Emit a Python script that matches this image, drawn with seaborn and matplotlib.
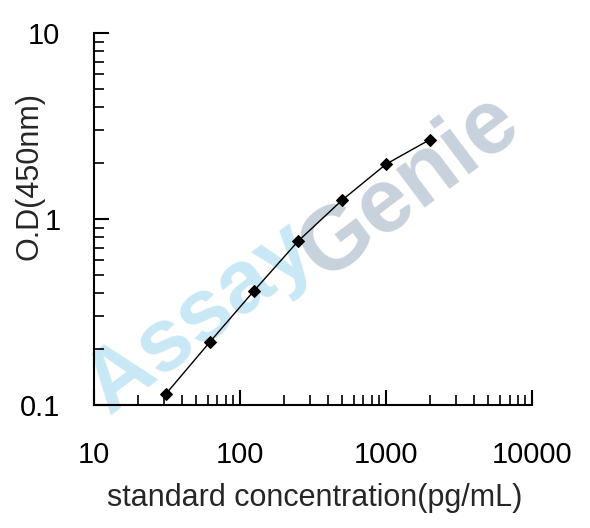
import matplotlib
matplotlib.use("Agg")
import matplotlib.pyplot as plt
import seaborn as sns
import pandas as pd
from matplotlib.ticker import LogLocator, NullFormatter, FixedLocator, FixedFormatter

# standard curve data
concentration = [31.25, 62.5, 125, 250, 500, 1000, 2000]
od_450 = [0.115, 0.219, 0.412, 0.761, 1.265, 1.976, 2.68]

x_ticks = [10, 100, 1000, 10000]
x_tick_labels = ["10", "100", "1000", "10000"]
y_ticks = [0.1, 1, 10]
y_tick_labels = ["0.1", "1", "10"]

df = pd.DataFrame({"conc": concentration, "od": od_450})

sns.set_style("ticks")
plt.rcParams["font.family"] = ["Liberation Sans", "DejaVu Sans"]

fig = plt.figure(figsize=(5.9, 5.28), dpi=100)
ax = fig.add_axes([0.159, 0.233, 0.743, 0.704])

# watermark behind the curve
ax.text(0.339, 0.396, "Assay", transform=fig.transFigure, rotation=37,
        ha="center", va="center", fontsize=64, fontweight="bold",
        color="#c9e8f6", zorder=0)
ax.text(0.695, 0.645, "Genie", transform=fig.transFigure, rotation=37,
        ha="center", va="center", fontsize=65, fontweight="bold",
        color="#c8d2dc", zorder=0)

sns.lineplot(data=df, x="conc", y="od", ax=ax, color="black", linewidth=1,
             marker="D", markersize=6, markeredgecolor="black", zorder=3)

ax.set_xscale("log")
ax.set_yscale("log")
ax.set_xlim(10, 10000)
ax.set_ylim(0.1, 10)

ax.xaxis.set_major_locator(FixedLocator(x_ticks))
ax.xaxis.set_major_formatter(FixedFormatter(x_tick_labels))
ax.yaxis.set_major_locator(FixedLocator(y_ticks))
ax.yaxis.set_major_formatter(FixedFormatter(y_tick_labels))
ax.xaxis.set_minor_locator(LogLocator(base=10, subs=range(2, 10)))
ax.yaxis.set_minor_locator(LogLocator(base=10, subs=range(2, 10)))
ax.xaxis.set_minor_formatter(NullFormatter())
ax.yaxis.set_minor_formatter(NullFormatter())

sns.despine(ax=ax)
for s in ["left", "bottom"]:
    ax.spines[s].set_linewidth(1.5)
    ax.spines[s].set_color("black")

ax.tick_params(axis="both", which="major", direction="in", length=11, width=1.5,
               labelsize=21, colors="black")
ax.tick_params(axis="both", which="minor", direction="in", length=7, width=1.2,
               colors="black")
ax.tick_params(axis="x", which="major", pad=26)
ax.tick_params(axis="y", which="major", pad=24)

ax.set_xlabel("standard concentration(pg/mL)", fontsize=22)
ax.set_ylabel("O.D(450nm)", fontsize=22)
ax.xaxis.set_label_coords(0.505, -0.21)
ax.yaxis.set_label_coords(-0.113, 0.617)

fig.savefig("out.png", dpi=100)
